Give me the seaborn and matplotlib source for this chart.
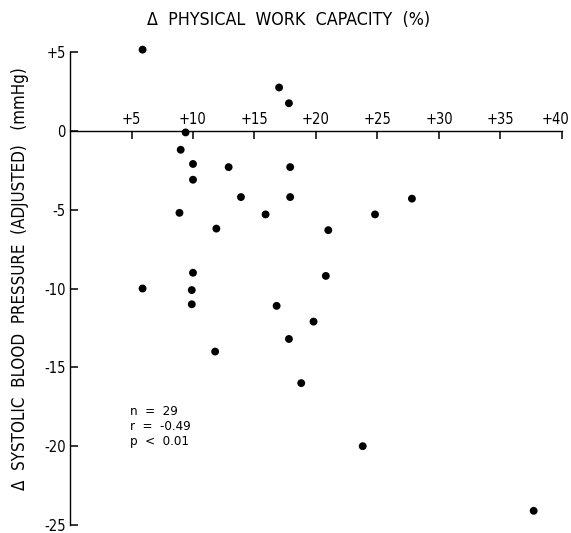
import numpy as np
import pandas as pd
import matplotlib
matplotlib.use("Agg")
import matplotlib.pyplot as plt
import matplotlib.transforms as mtransforms
import seaborn as sns

# change in physical work capacity (%) and adjusted systolic BP change (mmHg)
pwc_change = [5.9, 17.0, 17.8, 9.4, 9.0, 10.0, 12.9, 17.9, 10.0, 13.9,
              17.9, 8.9, 15.9, 24.8, 27.8, 11.9, 21.0, 10.0, 20.8, 5.9,
              9.9, 9.9, 16.8, 19.8, 17.8, 11.8, 18.8, 23.8, 37.7]
sbp_change = [5.15, 2.75, 1.75, -0.1, -1.2, -2.1, -2.3, -2.3, -3.1, -4.2,
              -4.2, -5.2, -5.3, -5.3, -4.3, -6.2, -6.3, -9.0, -9.2, -10.0,
              -10.1, -11.0, -11.1, -12.1, -13.2, -14.0, -16.0, -20.0, -24.1]

x_ticks = [5, 10, 15, 20, 25, 30, 35, 40]
x_tick_labels = ["+5", "+10", "+15", "+20", "+25", "+30", "+35", "+40"]
y_ticks = [5, 0, -5, -10, -15, -20, -25]
y_tick_labels = ["+5", "0", "-5", "-10", "-15", "-20", "-25"]

stats_text = "n  =  29\nr  =  -0.49\np  <  0.01"

df = pd.DataFrame({"pwc": pwc_change, "sbp": sbp_change})

sns.set_style("ticks")
plt.rcParams["font.family"] = ["DejaVu Sans"]
plt.rcParams["font.stretch"] = "condensed"
plt.rcParams["text.color"] = "black"
plt.rcParams["axes.axisbelow"] = False

fig = plt.figure(figsize=(5.71, 5.33), dpi=100)
ax = fig.add_axes([0.1226, 0.0150, 0.8616, 0.8874])

sns.scatterplot(data=df, x="pwc", y="sbp", ax=ax, color="black", s=32,
                edgecolor="none", clip_on=False, zorder=3)

ax.set_xlim(0, 40)
ax.set_ylim(-25, 5)

for side in ["right", "bottom"]:
    ax.spines[side].set_visible(False)
ax.spines["top"].set_visible(True)
ax.spines["top"].set_position(("data", 0))
for side in ["top", "left"]:
    ax.spines[side].set_linewidth(1.0)
    ax.spines[side].set_color("black")

ax.set_xticks(x_ticks)
ax.set_xticklabels(x_tick_labels)
ax.xaxis.set_ticks_position("top")
ax.tick_params(axis="x", which="major", top=True, bottom=False,
               labeltop=True, labelbottom=False, direction="in",
               length=6, width=1.1, pad=3, labelsize=10.5,
               color="black", labelcolor="black")

# last label sits a little left of its tick, as in the original
shift = mtransforms.ScaledTranslation(-6 / 100, 0, fig.dpi_scale_trans)
last = ax.get_xticklabels()[-1]
last.set_transform(last.get_transform() + shift)

ax.set_yticks(y_ticks)
ax.set_yticklabels(y_tick_labels)
ax.tick_params(axis="y", which="major", left=True, right=False,
               direction="in", length=6, width=1.1, pad=3,
               labelsize=10.5, color="black", labelcolor="black")
ax.minorticks_off()

ax.set_xlabel("")
ax.set_ylabel("")

fig.text(0.506, 0.9625, "Δ  PHYSICAL  WORK  CAPACITY  (%)", ha="center",
         va="center", fontsize=12.8)
fig.text(0.035, 0.4765, "Δ  SYSTOLIC  BLOOD  PRESSURE  (ADJUSTED)   (mmHg)",
         rotation=90, ha="center", va="center", fontsize=12.2)

ax.text(4.9, -17.4, stats_text, ha="left", va="top", fontsize=9.5,
        linespacing=1.2)

fig.savefig("out.png", dpi=100, facecolor="white")
